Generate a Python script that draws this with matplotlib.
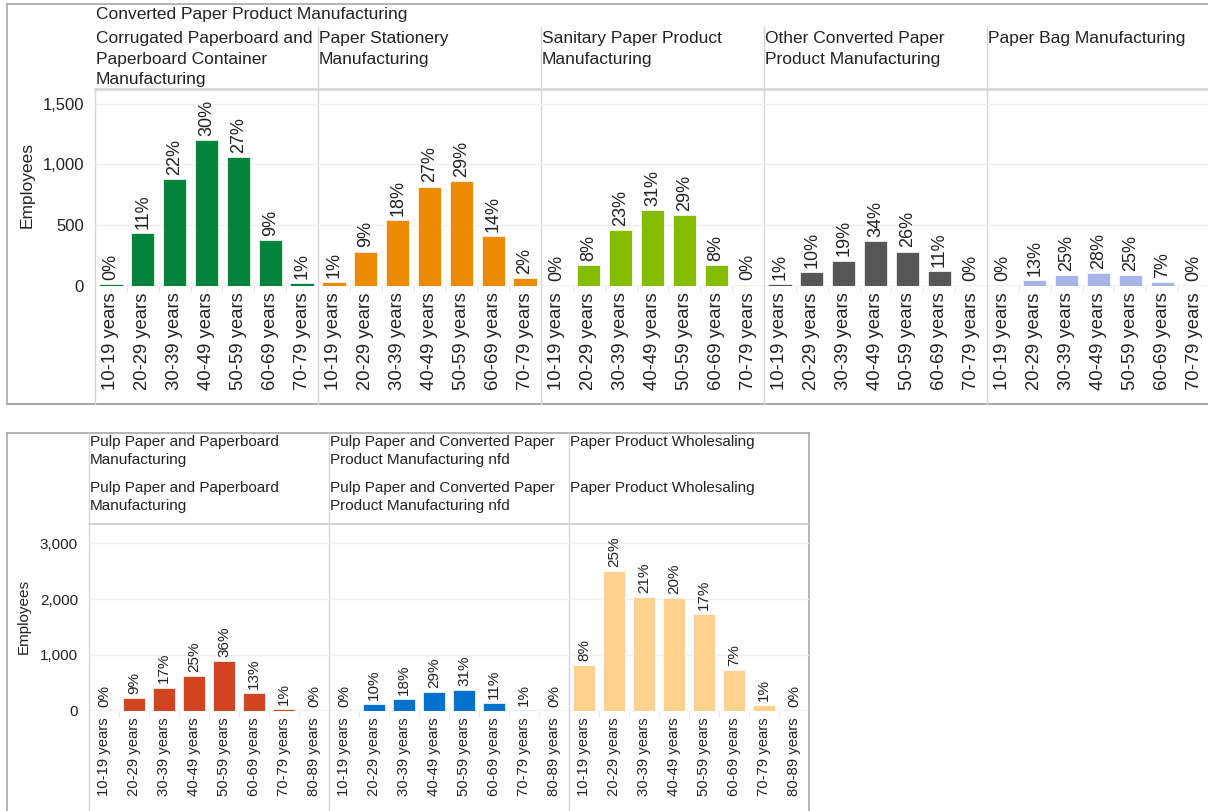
import matplotlib
matplotlib.use("Agg")
import matplotlib.pyplot as plt
import numpy as np

plt.rcParams['font.family'] = ['Liberation Sans', 'DejaVu Sans']

# Données
top_title = "Converted Paper Product Manufacturing"
top_groups = [
    "Corrugated Paperboard and\nPaperboard Container\nManufacturing",
    "Paper Stationery\nManufacturing",
    "Sanitary Paper Product\nManufacturing",
    "Other Converted Paper\nProduct Manufacturing",
    "Paper Bag Manufacturing",
]
top_ages = ["10-19 years", "20-29 years", "30-39 years", "40-49 years",
            "50-59 years", "60-69 years", "70-79 years"]
corrugated = [10, 431, 877, 1202, 1059, 373, 23]
stationery = [31, 280, 538, 816, 863, 409, 62]
sanitary = [0, 167, 458, 621, 582, 167, 8]
other_converted = [10, 109, 205, 365, 280, 120, 0]
paper_bag = [1, 46, 89, 100, 89, 25, 1]
top_values = [corrugated, stationery, sanitary, other_converted, paper_bag]
top_colors = ["#00843c", "#ec8a00", "#84bd00", "#565656", "#a7b5e6"]

bottom_groups = [
    "Pulp Paper and Paperboard\nManufacturing",
    "Pulp Paper and Converted Paper\nProduct Manufacturing nfd",
    "Paper Product Wholesaling",
]
bottom_ages = top_ages + ["80-89 years"]
pulp_paper = [0, 220, 413, 623, 885, 315, 30, 0]
pulp_nfd = [0, 120, 212, 341, 371, 130, 12, 0]
wholesaling = [820, 2495, 2041, 2018, 1730, 730, 97, 0]
bottom_values = [pulp_paper, pulp_nfd, wholesaling]
bottom_colors = ["#d04520", "#0072ce", "#fed18c"]

W, H = 1208, 811
fig = plt.figure(figsize=(W / 100, H / 100), dpi=100)

# Axe de fond en pixels pour les cadres et les en-têtes
bg = fig.add_axes([0, 0, 1, 1])
bg.set_xlim(0, W)
bg.set_ylim(H, 0)
bg.axis('off')

def px_rect(x0, y0, x1, y1):
    return [x0 / W, 1 - y1 / H, (x1 - x0) / W, (y1 - y0) / H]

border = "#a8a8a8"
divider = "#d6d6d6"
txt = "#222222"

def draw_row(x_edges, y_head, y_base, y_top_val, yticks, values, colors, ages,
             fs_tick, fs_pct, fs_ylab):
    for i, (vals, color) in enumerate(zip(values, colors)):
        ax = fig.add_axes(px_rect(x_edges[i], y_head, x_edges[i + 1], y_base))
        ax.set_facecolor('none')
        x = np.arange(len(ages))
        ax.bar(x, vals, width=0.73, color=color, edgecolor='white', linewidth=0.5, zorder=3)
        ax.set_xlim(-0.5, len(ages) - 0.5)
        ax.set_ylim(0, y_top_val)
        ax.set_yticks(yticks)
        ax.grid(axis='y', color='#efefef', linewidth=1, zorder=0)
        ax.axhline(0, color='#d9d9d9', linewidth=1, zorder=2)
        for s in ax.spines.values():
            s.set_visible(False)
        ax.set_xticks(x)
        ax.set_xticklabels(ages, rotation=90, fontsize=fs_tick, color=txt)
        ax.set_xticks(np.arange(len(ages) - 1) + 0.5, minor=True)
        ax.tick_params(axis='x', which='major', length=0, pad=5)
        ax.tick_params(axis='x', which='minor', length=4, color='#e2e2e2')
        if i == 0:
            ax.set_yticklabels([f"{t:,}" for t in yticks], fontsize=fs_ylab, color=txt)
            ax.tick_params(axis='y', length=0, pad=8)
        else:
            ax.tick_params(axis='y', length=0, labelleft=False)
        total = sum(vals)
        for j, v in enumerate(vals):
            pct = int(np.floor(v / total * 100 + 0.5))
            ax.annotate(f"{pct}%", (j, v), xytext=(0, 3), textcoords='offset points',
                        rotation=90, ha='center', va='bottom', fontsize=fs_pct, color=txt,
                        zorder=4)

# Rangée du haut
top_x = [95 + 223 * i for i in range(6)]
draw_row(top_x, 89, 285.5, (285.5 - 89) * 1500 / 181.8, [0, 500, 1000, 1500],
         top_values, top_colors, top_ages, 13.3, 13, 12)
bg.text(27, 185, "Employees", rotation=90, ha='center', va='center', fontsize=12.5, color=txt)
bg.text(96, 14, top_title, ha='left', va='center', fontsize=12.5, color=txt)
for i, g in enumerate(top_groups):
    bg.text(top_x[i] + 1, 31.5, g, ha='left', va='top', fontsize=12.5, color=txt, linespacing=1.45)

bg.plot([7, W], [4, 4], color=border, lw=1.2)
bg.plot([7, 7], [4, 404], color=border, lw=1.2)
bg.plot([7, W], [404, 404], color=border, lw=1.5)
bg.plot([95, W], [88.5, 88.5], color='#d3d3d3', lw=1.8)
bg.plot([95, 95], [88.5, 404], color=divider, lw=1)
for xe in top_x[1:5]:
    bg.plot([xe, xe], [27, 404], color=divider, lw=1)

# Rangée du bas
bot_x = [89 + 240 * i for i in range(4)]
draw_row(bot_x, 524, 710.7, (710.7 - 524) * 3000 / 167.4, [0, 1000, 2000, 3000],
         bottom_values, bottom_colors, bottom_ages, 10.7, 11, 11)
bg.text(24, 616, "Employees", rotation=90, ha='center', va='center', fontsize=11, color=txt)
for i, g in enumerate(bottom_groups):
    for yy in (435, 481):
        bg.text(bot_x[i] + 1, yy, g, ha='left', va='top', fontsize=11, color=txt, linespacing=1.36)

bg.plot([7, 809], [433, 433], color=border, lw=1.2)
bg.plot([7, 7], [433, H], color=border, lw=1.2)
bg.plot([809, 809], [433, H], color=border, lw=1.2)
bg.plot([89, 809], [524, 524], color='#c8c8c8', lw=1.2)
for xe in bot_x[:3]:
    bg.plot([xe, xe], [433, H], color=divider, lw=1)

fig.savefig("out.png", dpi=100)
